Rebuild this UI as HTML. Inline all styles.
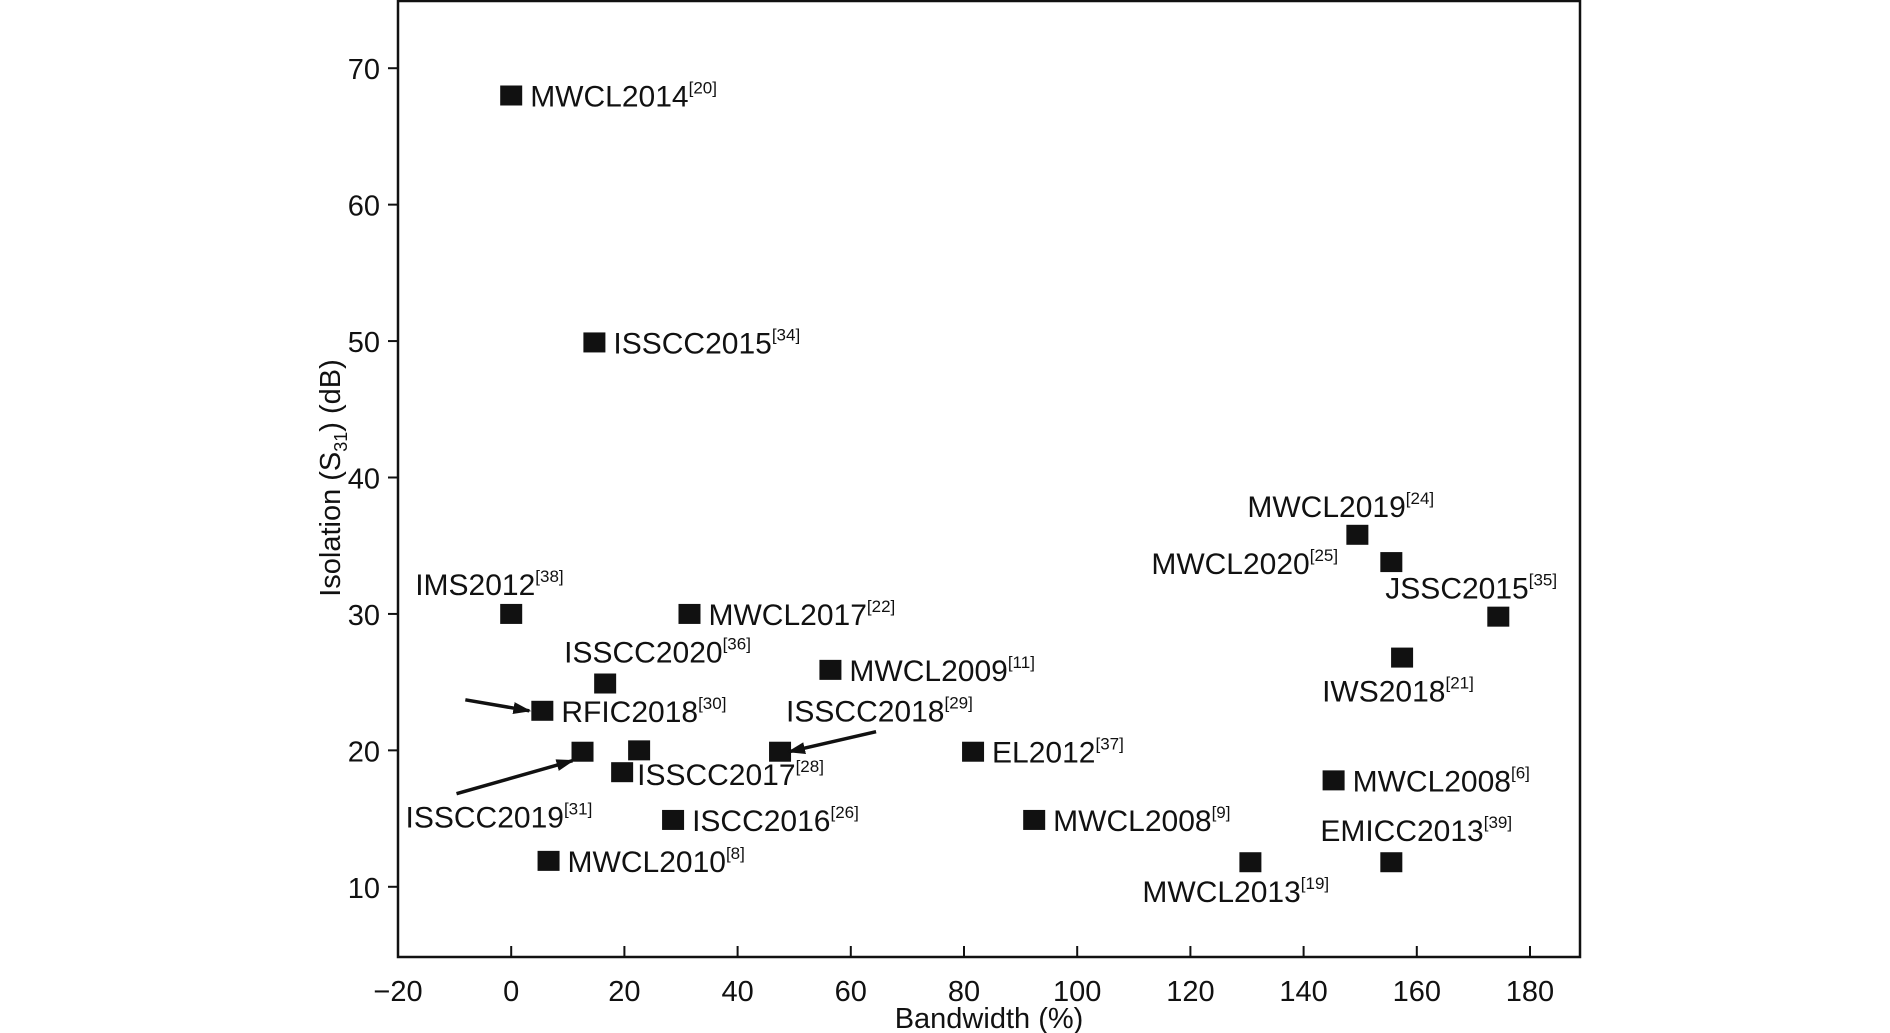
<!DOCTYPE html>
<html><head><meta charset="utf-8"><style>
html,body{margin:0;padding:0;background:#fff;}
svg{display:block;font-family:"Liberation Sans",sans-serif;}
</style></head><body>
<svg id="chart" width="1890" height="1033" viewBox="0 0 1890 1033">
<defs><marker id="ah" markerWidth="18" markerHeight="12" refX="16" refY="6" orient="auto" markerUnits="userSpaceOnUse"><path d="M0,0 L18,6 L0,12 z" fill="#111"/></marker></defs>
<g id="axes"></g><g id="marks"></g>
</svg>
<script>
const names=["MWCL2014","ISSCC2015","IMS2012","MWCL2017","ISSCC2020","MWCL2009","RFIC2018","ISSCC2018","ISSCC2019","","ISSCC2017","ISCC2016","MWCL2010","EL2012","MWCL2008","MWCL2013","EMICC2013","MWCL2008","IWS2018","JSSC2015","MWCL2020","MWCL2019"];
const refs=["20","34","38","22","36","11","30","29","31","","28","26","8","37","9","19","39","6","21","35","25","24"];
const bandwidth=[0,14.7,0,31.5,16.6,56.4,5.5,47.5,12.6,22.6,19.6,28.6,6.6,81.6,92.4,130.6,155.5,145.3,157.4,174.4,155.5,149.5];
const isolation=[68,49.9,30,30,24.9,25.9,22.9,19.9,19.9,20,18.4,14.9,11.9,19.9,14.9,11.8,11.8,17.8,26.8,29.8,33.8,35.8];
const xTicks=[-20,0,20,40,60,80,100,120,140,160,180];
const yTicks=[10,20,30,40,50,60,70];
// label placement offsets (layout, not data)
const lblDx=[19,19,-96,19,-41,19,19,6,-177,0,15,19,19,19,19,-108,-71,19,-80,-113,-240,-110];
const lblDy=[11,11,-19,11,-21,11,11,-30,76,0,13,11,11,11,11,40,-21,11,44,-18,12,-18];
const X0=398,X1=1580,Y0=0,Y1=957;
const px=v=>X0+(v+20)*5.66;
const py=v=>Y1-2-(v-5)*(955/70);
const NS="http://www.w3.org/2000/svg";
function mk(tag,attrs,parent){const e=document.createElementNS(NS,tag);for(const k in attrs)e.setAttribute(k,attrs[k]);parent.appendChild(e);return e;}
const axes=document.getElementById('axes'),marks=document.getElementById('marks');
const frame=mk('rect',{x:X0,y:Y0+1,width:X1-X0,height:Y1-1,fill:'none',stroke:'#111','stroke-width':2.5},axes);


xTicks.forEach(t=>{
  const l=mk('line',{x1:px(t),x2:px(t),y1:Y1,y2:Y1-11,stroke:'#111','stroke-width':2},axes);
  
  
  const tx=mk('text',{x:px(t),y:Y1+44,'font-size':29,'text-anchor':'middle',fill:'#111'},axes);
  tx.textContent=t<0?'\u2212'+(-t):t;
  
  
});
yTicks.forEach(t=>{
  const l=mk('line',{x1:X0-10,x2:X0,y1:py(t),y2:py(t),stroke:'#111','stroke-width':2},axes);
  
  
  const tx=mk('text',{x:X0-18,y:py(t)+11,'font-size':29,'text-anchor':'end',fill:'#111'},axes);
  tx.textContent=t;
  
  
});
const xt=mk('text',{x:(X0+X1)/2,y:1028,'font-size':29,'text-anchor':'middle',fill:'#111'},axes);
xt.textContent='Bandwidth (%)';


const yt=mk('text',{x:0,y:0,'font-size':29,'text-anchor':'middle',fill:'#111',transform:'translate(340,478) rotate(-90)'},axes);
yt.innerHTML='Isolation (S<tspan font-size="18" dy="7">31</tspan><tspan dy="-7">) (dB)</tspan>';


bandwidth.forEach((b,i)=>{
  const cx=px(b),cy=py(isolation[i]);
  const r=mk('rect',{x:cx-11,y:cy-10,width:22,height:20,fill:'#111'},marks);
  
  
  if(names[i]){
    const t=mk('text',{x:cx+lblDx[i],y:cy+lblDy[i],'font-size':30,fill:'#111'},marks);
    t.innerHTML=names[i]+'<tspan font-size="17" dy="-13">['+refs[i]+']</tspan>';
    
    
  }
});
function arrow(x1,y1,x2,y2,name){const a=mk('line',{x1,y1,x2,y2,stroke:'#111','stroke-width':3.5,'marker-end':'url(#ah)'},marks);

}
const r6=[px(bandwidth[6]),py(isolation[6])],r7=[px(bandwidth[7]),py(isolation[7])],r8=[px(bandwidth[8]),py(isolation[8])];
arrow(r6[0]-77,r6[1]-11,r6[0]-13,r6[1],'tmtt2010-arrow');
arrow(r7[0]+96,r7[1]-20,r7[0]+9,r7[1],'isscc2018-arrow');
arrow(r8[0]-126,r8[1]+42,r8[0]-10,r8[1]+9,'isscc2019-arrow');
</script>
</body></html>
